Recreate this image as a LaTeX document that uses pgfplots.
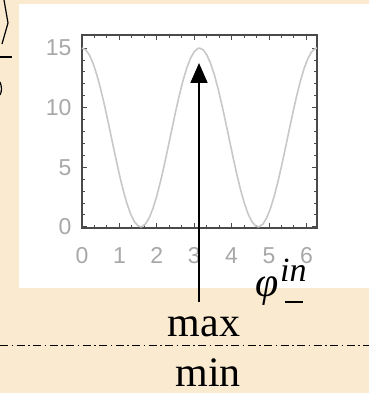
\documentclass[border=0pt]{standalone}
\usepackage{fontspec}
\setmainfont{Liberation Serif}
\newfontfamily\tickfont{Liberation Sans}
\usepackage{pgfplots}
\pgfplotsset{compat=1.18}
\usetikzlibrary{arrows.meta}
\definecolor{parchment}{HTML}{FAEAD0}
\definecolor{framegray}{HTML}{4A4A4A}
\definecolor{curvegray}{HTML}{C8C8C8}
\definecolor{labelgray}{HTML}{A8A8A8}

\begin{document}
\begin{tikzpicture}[x=1pt,y=1pt]
  % slide background and white plot panel
  \fill[parchment] (0,0) rectangle (369,393);
  \useasboundingbox (0,0) rectangle (369,393);
  \fill[white] (19,105) rectangle (369,389);

  % fragments of the neighbouring formula at the left edge
  \draw[line width=1.2pt] (4,393) -- (8,370) -- (2,349);
  \draw[line width=1.2pt] (0,336) -- (12,336);
  \draw[line width=1.2pt] (0,311) .. controls (2,306) and (2,302) .. (0,298);

  \begin{axis}[
    at={(82pt,165pt)}, anchor=south west,
    scale only axis, width=235pt, height=193pt,
    xmin=0, xmax=6.2832, ymin=-0.1, ymax=16.1,
    xtick={0,1,2,3,4,5,6}, ytick={0,5,10,15},
    minor x tick num=2, minor y tick num=4,
    tick align=inside,
    major tick length=5pt, minor tick length=3pt,
    every tick/.style={framegray, line width=0.9pt},
    axis line style={framegray, line width=1.3pt},
    every tick label/.append style={font=\tickfont\fontsize{23}{23}\selectfont, text=labelgray},
    /pgf/number format/assume math mode=true,
    every x tick label/.append style={anchor=north, yshift=-16pt},
    every y tick label/.append style={anchor=east, xshift=-7pt},
    clip=false,
  ]
    \addplot[curvegray, line width=1.6pt] coordinates {
      (0,15) (0.1,14.850) (0.2,14.408) (0.3,13.690) (0.4,12.725)
      (0.5,11.552) (0.6,10.218) (0.7,8.775) (0.8,7.281) (0.9,5.796)
      (1.0,4.379) (1.1,3.086) (1.2,1.970) (1.3,1.073) (1.4,0.433)
      (1.5,0.075) (1.5708,0) (1.6,0.013) (1.7,0.249) (1.8,0.774)
      (1.9,1.568) (2.0,2.598) (2.1,3.823) (2.2,5.195) (2.3,6.659)
      (2.4,8.156) (2.5,9.627) (2.6,11.014) (2.7,12.260) (2.8,13.317)
      (2.9,14.141) (3.0,14.701) (3.1,14.974) (3.1416,15)
      (3.2416,14.850) (3.3416,14.408) (3.4416,13.690) (3.5416,12.725)
      (3.6416,11.552) (3.7416,10.218) (3.8416,8.775) (3.9416,7.281)
      (4.0416,5.796) (4.1416,4.379) (4.2416,3.086) (4.3416,1.970)
      (4.4416,1.073) (4.5416,0.433) (4.6416,0.075) (4.7124,0)
      (4.7416,0.013) (4.8416,0.249) (4.9416,0.774) (5.0416,1.568)
      (5.1416,2.598) (5.2416,3.823) (5.3416,5.195) (5.4416,6.659)
      (5.5416,8.156) (5.6416,9.627) (5.7416,11.014) (5.8416,12.260)
      (5.9416,13.317) (6.0416,14.141) (6.1416,14.701) (6.2416,14.974)
      (6.2832,15)
    };
  \end{axis}

  % arrow pointing at the maximum
  \draw[line width=1.8pt, -{Triangle[length=20pt,width=17pt]}] (199,91) -- (199,330);

  % phase label
  \node[anchor=base west, inner sep=0pt, font=\fontsize{42}{42}\selectfont\itshape] at (255,96) {φ};
  \node[anchor=base west, inner sep=0pt, font=\fontsize{34}{34}\selectfont\itshape] at (280,111) {in};
  \draw[line width=1.6pt] (285,91) -- (303,91);

  % max / min levels
  \node[anchor=base, inner sep=0pt, font=\fontsize{42}{42}\selectfont] at (204,56) {max};
  \draw[line width=0.9pt, dash pattern=on 8pt off 3.5pt on 1.5pt off 3.5pt] (0,48) -- (369,48);
  \node[anchor=base, inner sep=0pt, font=\fontsize{42}{42}\selectfont] at (208,6) {min};
\end{tikzpicture}
\end{document}
